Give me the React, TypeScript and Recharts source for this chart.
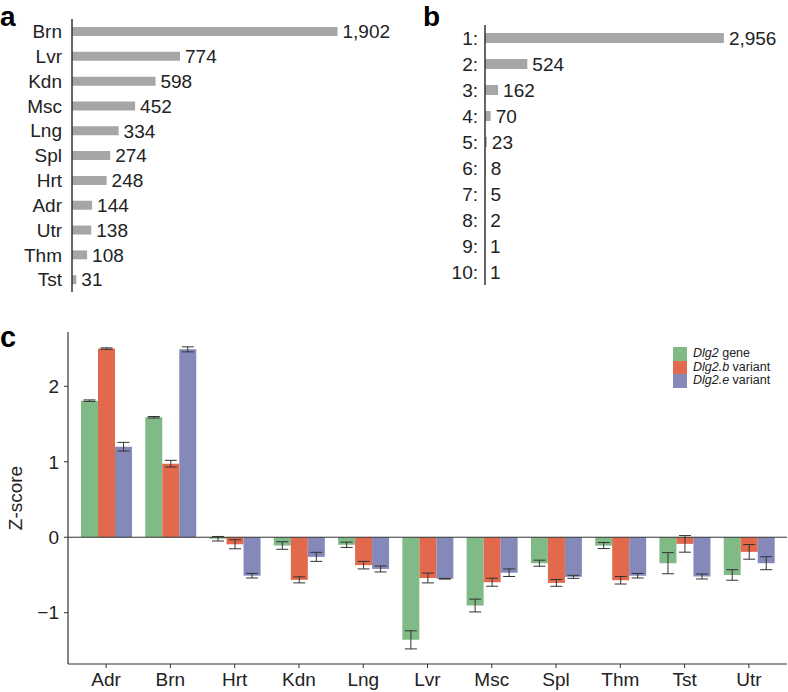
import React from "react";
import {
  Bar,
  BarChart,
  ErrorBar,
  LabelList,
  ReferenceLine,
  XAxis,
  YAxis,
} from "recharts";

const FONT = '"Liberation Sans", Arial, Helvetica, sans-serif';
const INK = "#222";
const AXIS = "#333";
const GREY = "#a6a6a6";

// panel a: genes per tissue
const tissuesA = ["Brn", "Lvr", "Kdn", "Msc", "Lng", "Spl", "Hrt", "Adr", "Utr", "Thm", "Tst"];
const countsA = [1902, 774, 598, 452, 334, 274, 248, 144, 138, 108, 31];

// panel b: number of tissues
const isoformLabels = ["1:", "2:", "3:", "4:", "5:", "6:", "7:", "8:", "9:", "10:"];
const isoformCounts = [2956, 524, 162, 70, 23, 8, 5, 2, 1, 1];

// panel c: Z-scores
const tissuesC = ["Adr", "Brn", "Hrt", "Kdn", "Lng", "Lvr", "Msc", "Spl", "Thm", "Tst", "Utr"];
const geneZ = [1.81, 1.59, -0.02, -0.11, -0.1, -1.36, -0.905, -0.344, -0.11, -0.344, -0.5];
const geneErr = [0.01, 0.01, 0.03, 0.05, 0.035, 0.12, 0.085, 0.04, 0.04, 0.14, 0.07];
const bZ = [2.5, 0.975, -0.093, -0.565, -0.37, -0.54, -0.596, -0.605, -0.57, -0.088, -0.194];
const bErr = [0.01, 0.044, 0.06, 0.04, 0.05, 0.065, 0.053, 0.045, 0.05, 0.11, 0.097];
const eZ = [1.2, 2.49, -0.51, -0.26, -0.42, -0.55, -0.47, -0.525, -0.51, -0.52, -0.344];
const eErr = [0.057, 0.033, 0.03, 0.06, 0.04, 0.005, 0.05, 0.02, 0.03, 0.033, 0.086];
const zTicks = [-1, 0, 1, 2];

const seriesKeys = ["gene", "b", "e"];
const seriesColors = ["#7fba87", "#e3694c", "#8589ba"];
const seriesItalic = ["Dlg2", "Dlg2.b", "Dlg2.e"];
const seriesRest = [" gene", " variant", " variant"];

const dataA = tissuesA.map((tissue, i) => ({ tissue, count: countsA[i] }));
const dataB = isoformLabels.map((label, i) => ({ label, count: isoformCounts[i] }));
const dataC = tissuesC.map((tissue, i) => ({
  tissue,
  gene: geneZ[i],
  geneErr: geneErr[i],
  b: bZ[i],
  bErr: bErr[i],
  e: eZ[i],
  eErr: eErr[i],
}));

const fmtCount = (v: number) => v.toLocaleString("en-US");
const fmtZ = (v: number) => String(v).replace("-", "\u2212");

const ZLabel = (props: any) => {
  const vb = props.viewBox;
  const cx = vb.x + 15;
  const cy = vb.y + vb.height / 2;
  return (
    <text
      x={cx}
      y={cy}
      transform={`rotate(-90, ${cx}, ${cy})`}
      textAnchor="middle"
      dominantBaseline="central"
      fontSize={19}
      fill={INK}
    >
      Z-score
    </text>
  );
};

const PanelA = () => (
  <BarChart
    width={420}
    height={300}
    layout="vertical"
    data={dataA}
    margin={{ top: 19, right: 13, bottom: 8, left: 0 }}
  >
    <XAxis type="number" domain={[0, 2400]} hide />
    <YAxis
      type="category"
      dataKey="tissue"
      width={72}
      interval={0}
      tickSize={0}
      tickMargin={10}
      tickLine={false}
      axisLine={{ stroke: AXIS, strokeWidth: 1.5 }}
      tick={{ fill: INK, fontSize: 19 }}
    />
    <Bar dataKey="count" fill={GREY} barSize={9} isAnimationActive={false}>
      <LabelList
        dataKey="count"
        position="right"
        offset={5}
        formatter={fmtCount}
        style={{ fill: INK, fontSize: 19 }}
      />
    </Bar>
  </BarChart>
);

const PanelB = () => (
  <BarChart
    width={368}
    height={300}
    layout="vertical"
    data={dataB}
    margin={{ top: 25, right: 4, bottom: 15, left: 0 }}
  >
    <XAxis type="number" domain={[0, 3700]} hide />
    <YAxis
      type="category"
      dataKey="label"
      width={65}
      interval={0}
      tickSize={0}
      tickMargin={7}
      tickLine={false}
      axisLine={{ stroke: AXIS, strokeWidth: 1.5 }}
      tick={{ fill: INK, fontSize: 19 }}
    />
    <Bar dataKey="count" fill={GREY} barSize={10} isAnimationActive={false}>
      <LabelList
        dataKey="count"
        position="right"
        offset={5}
        formatter={fmtCount}
        style={{ fill: INK, fontSize: 19 }}
      />
    </Bar>
  </BarChart>
);

const PanelC = () => (
  <BarChart
    width={788}
    height={382}
    data={dataC}
    barGap={0}
    margin={{ top: 22, right: 1, bottom: 0, left: 0 }}
  >
    <XAxis
      dataKey="tissue"
      interval={0}
      height={28}
      padding={{ left: 6, right: 6 }}
      tickSize={4}
      tickMargin={5}
      axisLine={{ stroke: AXIS, strokeWidth: 1.2 }}
      tickLine={{ stroke: AXIS }}
      tick={{ fill: INK, fontSize: 19 }}
    />
    <XAxis
      xAxisId="top"
      orientation="top"
      dataKey="tissue"
      height={0}
      tick={false}
      tickLine={false}
      axisLine={{ stroke: AXIS, strokeWidth: 1.2 }}
    />
    <YAxis
      type="number"
      domain={[-1.68, 2.72]}
      ticks={zTicks}
      width={68}
      tickSize={4}
      tickMargin={5}
      tickFormatter={fmtZ}
      axisLine={{ stroke: AXIS, strokeWidth: 1.2 }}
      tickLine={{ stroke: AXIS }}
      tick={{ fill: INK, fontSize: 19 }}
      label={ZLabel}
    />
    <YAxis
      yAxisId="right"
      orientation="right"
      width={0}
      tick={false}
      tickLine={false}
      axisLine={{ stroke: AXIS, strokeWidth: 1.2 }}
    />
    <ReferenceLine y={0} stroke={AXIS} strokeWidth={1} />
    {seriesKeys.map((key, i) => (
      <Bar
        key={key}
        dataKey={key}
        fill={seriesColors[i]}
        barSize={17}
        isAnimationActive={false}
      >
        <ErrorBar dataKey={`${key}Err`} width={6} stroke={AXIS} strokeWidth={1} />
      </Bar>
    ))}
  </BarChart>
);

const LegendC = () => (
  <div style={{ position: "absolute", left: 673, top: 347, fontSize: 12.5, lineHeight: "13.5px", color: INK }}>
    {seriesKeys.map((key, i) => (
      <div key={key} style={{ display: "flex", alignItems: "center", height: 13.5 }}>
        <span style={{ width: 14, height: 13.5, background: seriesColors[i], marginRight: 6 }} />
        <span style={{ whiteSpace: "nowrap" }}>
          <i>{seriesItalic[i]}</i>
          {seriesRest[i]}
        </span>
      </div>
    ))}
  </div>
);

export default function App() {
  return (
    <div
      style={{
        position: "absolute",
        left: 0,
        top: 0,
        width: 788,
        height: 692,
        background: "#fff",
        fontFamily: FONT,
      }}
    >
      <div style={{ position: "absolute", left: 0, top: 0 }}>
        <PanelA />
      </div>
      <div style={{ position: "absolute", left: 420, top: 0 }}>
        <PanelB />
      </div>
      <div style={{ position: "absolute", left: 0, top: 310 }}>
        <PanelC />
      </div>
      <LegendC />
      <svg
        width={788}
        height={692}
        style={{ position: "absolute", left: 0, top: 0, pointerEvents: "none" }}
      >
        <text x={0} y={25.5} fontSize={28} fontWeight="bold" fill="#000">a</text>
        <text x={423} y={25.5} fontSize={28} fontWeight="bold" fill="#000">b</text>
        <text x={0} y={347} fontSize={29} fontWeight="bold" fill="#000">c</text>
      </svg>
    </div>
  );
}
